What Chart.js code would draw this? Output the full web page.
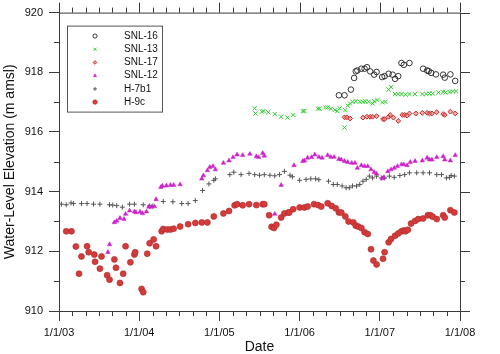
<!DOCTYPE html>
<html>
<head>
<meta charset="utf-8">
<script src="https://cdn.jsdelivr.net/npm/chart.js@4.4.0/dist/chart.umd.min.js"></script>
<style>
  body { margin: 0; background: #fff; }
  #wrap { width: 500px; height: 354px; }
</style>
</head>
<body>
<div id="wrap"><canvas id="chart" width="500" height="354"></canvas></div>
<script>
// dates are decimal years, levels in m amsl
const xTickLabels = ["1/1/03", "1/1/04", "1/1/05", "1/1/06", "1/1/07", "1/1/08"];

const snl16Dates = [2006.49, 2006.56, 2006.64, 2006.68, 2006.70, 2006.72, 2006.77, 2006.81, 2006.84, 2006.88,
  2006.93, 2006.96, 2007.03, 2007.06, 2007.11, 2007.16, 2007.19, 2007.23, 2007.27, 2007.30,
  2007.37, 2007.54, 2007.59, 2007.61, 2007.64, 2007.70, 2007.79, 2007.81, 2007.88, 2007.94];
const snl16Levels = [917.23, 917.23, 917.42, 917.81, 918.03, 918.06, 918.12, 918.12, 918.17, 918.03,
  917.92, 918.01, 917.84, 917.87, 917.95, 917.92, 917.78, 917.87, 918.31, 918.25,
  918.31, 918.12, 918.06, 918.04, 917.98, 917.93, 917.92, 917.82, 917.93, 917.71];

const snl13Dates = [2005.44, 2005.45, 2005.53, 2005.55, 2005.61, 2005.69, 2005.77, 2005.85, 2005.92, 2006.04,
  2006.06, 2006.23, 2006.25, 2006.32, 2006.35, 2006.39, 2006.44, 2006.47, 2006.50, 2006.56,
  2006.57, 2006.60, 2006.63, 2006.66, 2006.70, 2006.75, 2006.79, 2006.82, 2006.86, 2006.91,
  2006.93, 2006.97, 2007.03, 2007.07, 2007.11, 2007.14, 2007.19, 2007.23, 2007.27, 2007.32,
  2007.37, 2007.44, 2007.53, 2007.58, 2007.62, 2007.66, 2007.73, 2007.79, 2007.82, 2007.87,
  2007.91, 2007.95];
const snl13Levels = [916.79, 916.62, 916.68, 916.70, 916.66, 916.60, 916.51, 916.48, 916.57, 916.70,
  916.70, 916.78, 916.78, 916.82, 916.82, 916.78, 916.74, 916.70, 916.79, 916.15,
  916.73, 916.88, 916.95, 917.01, 917.03, 917.01, 917.01, 917.03, 917.01, 916.95,
  917.03, 917.07, 916.99, 917.01, 917.42, 917.51, 917.27, 917.27, 917.27, 917.25,
  917.27, 917.27, 917.27, 917.27, 917.29, 917.29, 917.32, 917.34, 917.32, 917.34,
  917.36, 917.36];

const snl17Dates = [2006.56, 2006.59, 2006.63, 2006.79, 2006.84, 2006.88, 2006.91, 2006.96, 2007.04, 2007.06,
  2007.11, 2007.13, 2007.17, 2007.23, 2007.28, 2007.31, 2007.34, 2007.37, 2007.45, 2007.53,
  2007.59, 2007.62, 2007.65, 2007.71, 2007.79, 2007.81, 2007.88, 2007.94];
const snl17Levels = [916.49, 916.49, 916.45, 916.48, 916.51, 916.51, 916.51, 916.53, 916.43, 916.43,
  916.51, 916.57, 916.48, 916.37, 916.57, 916.57, 916.55, 916.62, 916.62, 916.64,
  916.64, 916.62, 916.62, 916.66, 916.60, 916.57, 916.68, 916.62];

const snl12Dates = [2003.61, 2003.63, 2003.69, 2003.72, 2003.76, 2003.81, 2003.83, 2003.88, 2003.94, 2003.96,
  2004.01, 2004.04, 2004.09, 2004.12, 2004.15, 2004.19, 2004.21, 2004.27, 2004.29, 2004.34,
  2004.39, 2004.43, 2004.51, 2004.78, 2004.80, 2004.85, 2004.88, 2004.92, 2004.95, 2005.05,
  2005.12, 2005.17, 2005.22, 2005.29, 2005.38, 2005.46, 2005.49, 2005.54, 2005.56, 2005.69,
  2005.77, 2005.93, 2006.04, 2006.06, 2006.10, 2006.15, 2006.19, 2006.24, 2006.28, 2006.35,
  2006.39, 2006.43, 2006.49, 2006.52, 2006.56, 2006.60, 2006.65, 2006.69, 2006.72, 2006.77,
  2006.81, 2006.85, 2006.89, 2006.93, 2006.96, 2007.03, 2007.05, 2007.10, 2007.14, 2007.18,
  2007.22, 2007.27, 2007.30, 2007.34, 2007.38, 2007.44, 2007.53, 2007.59, 2007.62, 2007.65,
  2007.71, 2007.79, 2007.81, 2007.88, 2007.94];
const snl12Levels = [911.97, 912.23, 912.97, 913.02, 913.11, 913.08, 913.25, 913.36, 913.33, 913.30,
  913.32, 913.27, 913.33, 913.49, 913.49, 913.50, 913.74, 914.15, 914.19, 914.20,
  914.22, 914.22, 914.24, 914.43, 914.54, 914.71, 914.82, 914.85, 914.74, 914.96,
  915.04, 915.15, 915.24, 915.22, 915.26, 915.18, 915.15, 915.29, 915.20, 913.25,
  914.22, 914.88, 915.02, 915.04, 915.13, 915.15, 915.24, 915.16, 915.13, 915.22,
  915.16, 915.16, 915.09, 915.07, 915.02, 914.99, 914.96, 914.96, 914.79, 914.88,
  914.85, 914.85, 914.74, 914.65, 914.60, 914.44, 914.48, 914.68, 914.74, 914.79,
  914.85, 914.91, 914.91, 914.88, 914.99, 915.02, 915.04, 915.13, 915.07, 915.07,
  915.15, 915.18, 915.07, 915.04, 915.22];

const h7b1Dates = [2003.03, 2003.09, 2003.15, 2003.18, 2003.28, 2003.35, 2003.43, 2003.51, 2003.63, 2003.67,
  2003.72, 2003.79, 2003.88, 2003.94, 2004.05, 2004.13, 2004.17, 2004.30, 2004.42, 2004.53,
  2004.61, 2004.70, 2004.79, 2004.87, 2004.93, 2004.95, 2005.13, 2005.18, 2005.27, 2005.37,
  2005.44, 2005.50, 2005.56, 2005.63, 2005.69, 2005.75, 2005.81, 2005.88, 2005.91, 2006.00,
  2006.08, 2006.14, 2006.20, 2006.24, 2006.36, 2006.42, 2006.47, 2006.53, 2006.58, 2006.62,
  2006.66, 2006.71, 2006.75, 2006.79, 2006.83, 2006.87, 2006.91, 2006.96, 2007.02, 2007.06,
  2007.12, 2007.18, 2007.25, 2007.31, 2007.37, 2007.46, 2007.54, 2007.62, 2007.71, 2007.77,
  2007.83, 2007.87, 2007.89, 2007.93];
const h7b1Levels = [913.58, 913.56, 913.62, 913.60, 913.60, 913.60, 913.58, 913.58, 913.56, 913.55,
  913.53, 913.48, 913.58, 913.58, 913.56, 913.52, 913.52, 913.67, 913.66, 913.60,
  913.60, 913.70, 914.04, 914.26, 914.38, 914.43, 914.57, 914.65, 914.57, 914.61,
  914.57, 914.55, 914.57, 914.55, 914.53, 914.57, 914.68, 914.55, 914.50, 914.38,
  914.41, 914.43, 914.43, 914.40, 914.35, 914.24, 914.24, 914.19, 914.13, 914.13,
  914.19, 914.19, 914.24, 914.35, 914.41, 914.52, 914.46, 914.52, 914.46, 914.46,
  914.52, 914.48, 914.54, 914.57, 914.63, 914.63, 914.63, 914.63, 914.57, 914.57,
  914.46, 914.48, 914.54, 914.52];

const h9cDates = [2003.09, 2003.155, 2003.21, 2003.25, 2003.28, 2003.35, 2003.37, 2003.44, 2003.45, 2003.51,
  2003.53, 2003.60, 2003.63, 2003.69, 2003.71, 2003.76, 2003.80, 2003.83, 2003.89, 2003.94,
  2003.95, 2004.03, 2004.05, 2004.10, 2004.13, 2004.18, 2004.21, 2004.28, 2004.30, 2004.35,
  2004.39, 2004.43, 2004.51, 2004.61, 2004.70, 2004.78, 2004.85, 2004.93, 2005.05, 2005.12,
  2005.19, 2005.22, 2005.29, 2005.37, 2005.46, 2005.54, 2005.56, 2005.62, 2005.65, 2005.68,
  2005.71, 2005.77, 2005.81, 2005.86, 2005.87, 2005.92, 2006.00, 2006.06, 2006.10, 2006.18,
  2006.23, 2006.27, 2006.35, 2006.40, 2006.45, 2006.49, 2006.52, 2006.57, 2006.61, 2006.67,
  2006.70, 2006.73, 2006.77, 2006.81, 2006.85, 2006.89, 2006.92, 2006.96, 2007.04, 2007.06,
  2007.11, 2007.14, 2007.19, 2007.23, 2007.27, 2007.30, 2007.32, 2007.35, 2007.39, 2007.44,
  2007.48, 2007.54, 2007.60, 2007.63, 2007.66, 2007.71, 2007.79, 2007.81, 2007.88, 2007.93];
const h9cLevels = [912.67, 912.67, 912.16, 911.25, 911.83, 912.17, 911.97, 911.89, 911.65, 911.42,
  911.83, 911.20, 911.05, 911.73, 911.45, 910.94, 911.25, 912.17, 911.63, 911.89,
  911.97, 910.74, 910.63, 911.92, 912.27, 912.40, 912.17, 912.67, 912.75, 912.73,
  912.73, 912.76, 912.83, 912.91, 912.95, 912.97, 912.97, 913.17, 913.27, 913.35,
  913.54, 913.58, 913.54, 913.58, 913.55, 913.58, 913.58, 913.21, 912.82, 912.78,
  912.89, 913.13, 913.27, 913.30, 913.30, 913.41, 913.47, 913.47, 913.50, 913.58,
  913.55, 913.50, 913.61, 913.52, 913.44, 913.30, 913.30, 913.17, 913.00, 912.97,
  912.86, 912.83, 912.78, 912.64, 912.58, 912.07, 911.69, 911.56, 911.75, 911.97,
  912.30, 912.41, 912.52, 912.60, 912.67, 912.70, 912.67, 912.72, 912.93, 913.02,
  913.08, 913.10, 913.21, 913.21, 913.16, 913.08, 913.21, 913.13, 913.38, 913.30];

const axisColor = "#3a3a3a";
const textColor = "#111";
const fontFamily = "Arial, 'Liberation Sans', sans-serif";

function pairs(dates, levels) {
  return dates.map((d, i) => ({ x: d, y: levels[i] }));
}

const datasets = [
  { label: "SNL-16", data: pairs(snl16Dates, snl16Levels), pointStyle: "circle", pointRadius: 2.8,
    backgroundColor: "rgba(0,0,0,0)", borderColor: "#222", borderWidth: 0.9 },
  { label: "SNL-13", data: pairs(snl13Dates, snl13Levels), pointStyle: "crossRot", pointRadius: 3,
    backgroundColor: "#33cc33", borderColor: "#33cc33", borderWidth: 1 },
  { label: "SNL-17", data: pairs(snl17Dates, snl17Levels), pointStyle: "rectRot", pointRadius: 2.4,
    backgroundColor: "rgba(235,120,110,0.6)", borderColor: "#c0282a", borderWidth: 1 },
  { label: "SNL-12", data: pairs(snl12Dates, snl12Levels), pointStyle: "triangle", pointRadius: 2.6,
    backgroundColor: "#cc22cc", borderColor: "#cc22cc", borderWidth: 0.5 },
  { label: "H-7b1", data: pairs(h7b1Dates, h7b1Levels), pointStyle: "cross", pointRadius: 2.5,
    backgroundColor: "#555", borderColor: "#555", borderWidth: 1 },
  { label: "H-9c", data: pairs(h9cDates, h9cLevels), pointStyle: "circle", pointRadius: 3,
    backgroundColor: "#d83a3a", borderColor: "#a52a2a", borderWidth: 0.6 }
];

// top/right frame plus minor ticks on every side
const frameTicks = {
  id: "frameTicks",
  afterDraw(chart) {
    const { ctx, chartArea: a, scales: { x, y } } = chart;
    ctx.save();
    ctx.strokeStyle = axisColor;
    ctx.lineWidth = 1;
    ctx.beginPath();
    ctx.moveTo(a.left, a.top + 0.5);
    ctx.lineTo(a.right + 0.5, a.top + 0.5);
    ctx.lineTo(a.right + 0.5, a.bottom);
    for (let m = 0; m <= 30; m++) {
      const px = Math.round(x.getPixelForValue(2003 + m / 6)) + 0.5;
      const major = m % 6 === 0;
      ctx.moveTo(px, a.top);
      ctx.lineTo(px, a.top - (major ? 10 : 5));
      if (!major) {
        ctx.moveTo(px, a.bottom);
        ctx.lineTo(px, a.bottom + 5);
      }
    }
    for (let v = 910; v <= 920; v++) {
      const py = Math.round(y.getPixelForValue(v)) + 0.5;
      const major = v % 2 === 0;
      ctx.moveTo(a.right, py);
      ctx.lineTo(a.right + (major ? 10 : 5), py);
      if (!major) {
        ctx.moveTo(a.left, py);
        ctx.lineTo(a.left - 5, py);
      }
    }
    ctx.stroke();
    ctx.restore();
  }
};

// boxed legend inside the plot, upper left
const boxLegend = {
  id: "boxLegend",
  afterDatasetsDraw(chart) {
    const ctx = chart.ctx;
    const a = chart.chartArea;
    const bx = a.left + 8, by = a.top + 13, bw = 95, bh = 86;
    ctx.save();
    ctx.strokeStyle = "#555";
    ctx.lineWidth = 1;
    ctx.strokeRect(bx + 0.5, by + 0.5, bw, bh);
    ctx.font = "10px " + fontFamily;
    ctx.textBaseline = "middle";
    ctx.fillStyle = textColor;
    chart.data.datasets.forEach((ds, i) => {
      const ry = by + 10.5 + i * 13.2;
      ctx.save();
      ctx.fillStyle = ds.backgroundColor;
      ctx.strokeStyle = ds.borderColor;
      ctx.lineWidth = ds.borderWidth;
      Chart.helpers.drawPoint(ctx, { pointStyle: ds.pointStyle, radius: ds.pointRadius * 0.75, rotation: 0, borderWidth: ds.borderWidth }, bx + 28, ry);
      ctx.restore();
      ctx.fillText(ds.label, bx + 57, ry);
    });
    ctx.restore();
  }
};

new Chart(document.getElementById("chart"), {
  type: "scatter",
  data: { datasets: datasets },
  plugins: [frameTicks, boxLegend],
  options: {
    responsive: false,
    animation: false,
    devicePixelRatio: 1,
    layout: { padding: { top: 10, right: 40, left: 0, bottom: 0 } },
    plugins: { legend: { display: false }, tooltip: { enabled: false } },
    scales: {
      x: {
        type: "linear",
        min: 2003,
        max: 2008,
        afterFit: s => { s.height = 43; },
        afterBuildTicks: s => { s.ticks = xTickLabels.map((t, i) => ({ value: 2003 + i })); },
        ticks: {
          callback: (v, i) => xTickLabels[i],
          color: textColor,
          font: { family: fontFamily, size: 11 },
          padding: 5,
          maxRotation: 0
        },
        grid: { drawOnChartArea: false, drawTicks: true, tickLength: 10, color: axisColor },
        border: { display: true, color: axisColor, width: 1 },
        title: { display: true, text: "Date", color: textColor,
          font: { family: fontFamily, size: 14, lineHeight: 1 }, padding: { top: 0, bottom: 0 } }
      },
      y: {
        min: 910,
        max: 920,
        afterFit: s => { s.width = 59; },
        ticks: {
          stepSize: 2,
          color: textColor,
          font: { family: fontFamily, size: 11 },
          padding: 6
        },
        grid: { drawOnChartArea: false, drawTicks: true, tickLength: 10, color: axisColor },
        border: { display: true, color: axisColor, width: 1 },
        title: { display: true, text: "Water-Level Elevation (m amsl)", color: textColor,
          font: { family: fontFamily, size: 14, lineHeight: 1.2 }, padding: { top: 2, bottom: 0 } }
      }
    }
  }
});
</script>
</body>
</html>
